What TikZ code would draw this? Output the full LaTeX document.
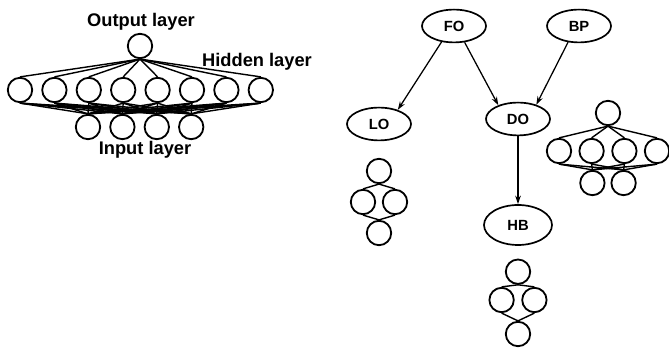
\documentclass[tikz,border=0pt]{standalone}
\usepackage{fontspec}
\setmainfont{Liberation Sans}
\usetikzlibrary{arrows.meta, shapes.geometric}

\begin{document}
\begin{tikzpicture}[
    neuron/.style={circle, draw, line width=1.3pt, minimum size=0.61cm, inner sep=0pt},
    module/.style={ellipse, draw, line width=1.2pt, minimum width=1.6cm,
      minimum height=0.82cm, inner sep=0pt, font=\fontsize{10.5}{12}\selectfont\bfseries},
    layerlabel/.style={anchor=base, font=\fontsize{13}{15}\selectfont\bfseries},
    wire/.style={line width=1.0pt},
    flow/.style={line width=0.9pt, -{Stealth[length=6pt, width=4pt]}}
  ]

    \useasboundingbox (0,0) rectangle (16.725, 8.7);

    %% ── Shared network: 8 hidden units, 4 inputs, 1 output ───────────────
    \node[neuron] (out) at (3.5, 7.55) {};
    \foreach \h in {1,...,8}
      \node[neuron] (h\h) at ({0.5 + 0.86*(\h-1)}, 6.45) {};
    \foreach \i in {1,...,4}
      \node[neuron] (in\i) at ({2.2 + 0.86*(\i-1)}, 5.525) {};

    \foreach \h in {1,...,8} {
      \draw[wire] (out.south) -- (h\h.north);
      \foreach \i in {1,...,4}
        \draw[wire] (h\h.south) -- (in\i.north);
    }

    \node[layerlabel] (outlbl) at (3.525, 8.025) {Output layer};
    \node[layerlabel] (hidlbl) at (6.425, 7.025) {Hidden layer};
    \node[layerlabel] (inlbl)  at (3.625, 4.825) {Input layer};

    %% ═══ Task tree ═══════════════════════════════════════════════════════
    \node[module] (FO) at (11.35, 8.05)  {FO};
    \node[module] (BP) at (14.475, 8.05) {BP};
    \node[module] (LO) at (9.475, 5.6)   {LO};
    \node[module] (DO) at (12.95, 5.725) {DO};
    \node[module, minimum width=1.7cm, minimum height=1.0cm]
      (HB) at (12.95, 3.075) {HB};

    \draw[flow] (FO.232) -- (LO.37);
    \draw[flow] (FO.303) -- (DO.145);
    \draw[flow] (BP.236) -- (DO.38);
    \draw[flow] (DO) -- (HB);

    %% LO net (1-2-1)
    \node[neuron] (lo1) at (9.475, 4.425) {};
    \node[neuron] (lo2) at (9.075, 3.65)  {};
    \node[neuron] (lo3) at (9.875, 3.65)  {};
    \node[neuron] (lo4) at (9.475, 2.875) {};
    \draw[wire] (lo1.south) -- (lo2.north);
    \draw[wire] (lo1.south) -- (lo3.north);
    \draw[wire] (lo2.south) -- (lo4.north);
    \draw[wire] (lo3.south) -- (lo4.north);

    %% HB net (1-2-1)
    \node[neuron] (hb1) at (12.95, 1.9075) {};
    \node[neuron] (hb2) at (12.54, 1.2)    {};
    \node[neuron] (hb3) at (13.36, 1.2)    {};
    \node[neuron] (hb4) at (12.95, 0.35)   {};
    \draw[wire] (hb1.south) -- (hb2.north);
    \draw[wire] (hb1.south) -- (hb3.north);
    \draw[wire] (hb2.south) -- (hb4.north);
    \draw[wire] (hb3.south) -- (hb4.north);

    %% BP net (1-4-2)
    \node[neuron] (bp0) at (15.2, 5.875) {};
    \foreach \k/\dx in {1/-1.225, 2/-0.41, 3/0.41, 4/1.225}
      \node[neuron] (bph\k) at ({15.2 + \dx}, 4.925) {};
    \node[neuron] (bpi1) at (14.81, 4.125) {};
    \node[neuron] (bpi2) at (15.59, 4.125) {};
    \foreach \k in {1,...,4} {
      \draw[wire] (bp0.south) -- (bph\k.north);
      \draw[wire] (bph\k.south) -- (bpi1.north);
      \draw[wire] (bph\k.south) -- (bpi2.north);
    }

\end{tikzpicture}
\end{document}
